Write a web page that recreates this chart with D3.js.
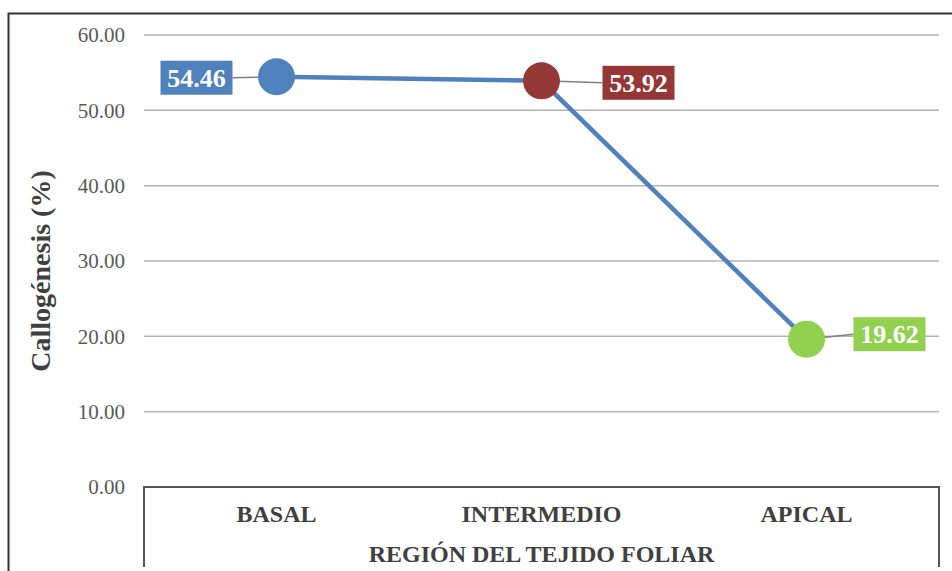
<!DOCTYPE html>
<html>
<head>
<meta charset="utf-8">
<script src="https://cdn.jsdelivr.net/npm/d3@7"></script>
<style>
  body { margin: 0; background: #fff; }
  svg { display: block; font-family: "Liberation Serif", "Times New Roman", serif; }
</style>
</head>
<body>
<svg id="chart" width="952" height="571"></svg>
<script>
// chart data
var categories = ["BASAL", "INTERMEDIO", "APICAL"];
var values = [54.46, 53.92, 19.62];
var pointColors = ["#4F81BD", "#953735", "#92D050"];
var yTicks = [0, 10, 20, 30, 40, 50, 60];

// label box offsets from the point (dx, dy of box center)
var labelOffsets = [[-80, 1], [97, 2], [83, -5]];

var svg = d3.select("#chart");

var mLeft = 144, mRight = 939, mTop = 35, mBottom = 487;

var x = d3.scaleBand().domain(categories).range([mLeft, mRight]);
var y = d3.scaleLinear().domain([0, 60]).range([mBottom, mTop]);

// outer frame
svg.append("path")
  .attr("d", "M8.5,580V13.5H960")
  .attr("fill", "none")
  .attr("stroke", "#333")
  .attr("stroke-width", 2);

// gridlines
svg.append("g").selectAll("line")
  .data(yTicks.filter(function (d) { return d > 0; }))
  .join("line")
  .attr("x1", mLeft).attr("x2", mRight)
  .attr("y1", function (d) { return y(d); })
  .attr("y2", function (d) { return y(d); })
  .attr("stroke", "#b3b3b3")
  .attr("stroke-width", 1.5);

// y axis labels
var yAxis = d3.axisLeft(y).tickValues(yTicks).tickFormat(d3.format(".2f")).tickSize(0).tickPadding(0);
var yg = svg.append("g").attr("transform", "translate(125,0)").call(yAxis);
yg.select(".domain").remove();
yg.selectAll("text")
  .attr("fill", "#595959")
  .attr("font-size", 21)
  .attr("font-family", "Liberation Serif, serif")
  .attr("dy", "0.33em");

// category axis box
svg.append("path")
  .attr("d", "M" + mLeft + ",567V" + mBottom + "H" + mRight + "V567")
  .attr("fill", "none")
  .attr("stroke", "#555")
  .attr("stroke-width", 2);

svg.append("g").selectAll("text")
  .data(categories)
  .join("text")
  .attr("x", function (d) { return x(d) + x.bandwidth() / 2; })
  .attr("y", 522)
  .attr("text-anchor", "middle")
  .attr("font-size", 24)
  .attr("font-weight", "bold")
  .attr("fill", "#404040")
  .text(function (d) { return d; });

svg.append("text")
  .attr("x", (mLeft + mRight) / 2)
  .attr("y", 562)
  .attr("text-anchor", "middle")
  .attr("font-size", 24)
  .attr("font-weight", "bold")
  .attr("fill", "#404040")
  .text("REGIÓN DEL TEJIDO FOLIAR");

// y title
svg.append("text")
  .attr("transform", "translate(50,271) rotate(-90)")
  .attr("text-anchor", "middle")
  .attr("font-size", 28)
  .attr("font-weight", "bold")
  .attr("fill", "#404040")
  .text("Callogénesis (%)");

var pts = categories.map(function (c, i) {
  return { cat: c, v: values[i], color: pointColors[i], off: labelOffsets[i],
           px: x(c) + x.bandwidth() / 2, py: y(values[i]) };
});

// series line
svg.append("path")
  .datum(pts)
  .attr("d", d3.line().x(function (d) { return d.px; }).y(function (d) { return d.py; }))
  .attr("fill", "none")
  .attr("stroke", "#4F81BD")
  .attr("stroke-width", 4.5);

// leader lines
svg.append("g").selectAll("line")
  .data(pts)
  .join("line")
  .attr("x1", function (d) { return d.px; })
  .attr("y1", function (d) { return d.py; })
  .attr("x2", function (d) { return d.px + d.off[0] + (d.off[0] < 0 ? 36 : -36); })
  .attr("y2", function (d) { return d.py + d.off[1]; })
  .attr("stroke", "#7f7f7f")
  .attr("stroke-width", 1.5);

// markers
svg.append("g").selectAll("circle")
  .data(pts)
  .join("circle")
  .attr("cx", function (d) { return d.px; })
  .attr("cy", function (d) { return d.py; })
  .attr("r", 18.5)
  .attr("fill", function (d) { return d.color; });

// data label boxes
var lab = svg.append("g").selectAll("g")
  .data(pts)
  .join("g")
  .attr("transform", function (d) {
    return "translate(" + (d.px + d.off[0]) + "," + (d.py + d.off[1]) + ")";
  });
lab.append("rect")
  .attr("x", -36).attr("y", -17)
  .attr("width", 72).attr("height", 34)
  .attr("fill", function (d) { return d.color; });
lab.append("text")
  .attr("text-anchor", "middle")
  .attr("dy", "0.35em")
  .attr("font-size", 26)
  .attr("font-weight", "bold")
  .attr("fill", "#fff")
  .text(function (d) { return d3.format(".2f")(d.v); });
</script>
</body>
</html>
